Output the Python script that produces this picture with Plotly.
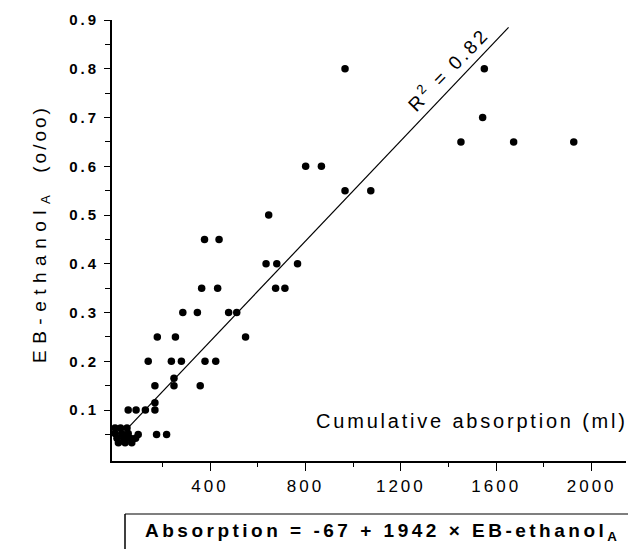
import plotly.graph_objects as go

# ---- data ----
absorption_ml = [
    966, 1550, 1543, 1452, 1673, 1925,
    801, 867, 966, 1074, 646,
    377, 438,
    635, 680, 767,
    365, 432, 675, 714,
    286, 347, 478, 512,
    179, 255, 549,
    141, 238, 280, 379, 424,
    249,
    169, 249, 359,
    169, 169,
    57, 90, 129,
    99, 176, 218,
    2, 25, 52,
    2, 30, 57,
    10, 38, 66, 88,
    16, 44, 72,
]
eb_ethanol = [
    0.80, 0.80, 0.70, 0.65, 0.65, 0.65,
    0.60, 0.60, 0.55, 0.55, 0.50,
    0.45, 0.45,
    0.40, 0.40, 0.40,
    0.35, 0.35, 0.35, 0.35,
    0.30, 0.30, 0.30, 0.30,
    0.25, 0.25, 0.25,
    0.20, 0.20, 0.20, 0.20, 0.20,
    0.165,
    0.15, 0.15, 0.15,
    0.115, 0.10,
    0.10, 0.10, 0.10,
    0.05, 0.05, 0.05,
    0.063, 0.063, 0.063,
    0.052, 0.052, 0.052,
    0.042, 0.042, 0.042, 0.042,
    0.033, 0.033, 0.033,
]

# regression: Absorption = intercept + slope * EB-ethanol
intercept = -67
slope = 1942
r_squared = 0.82
fit_y_range = [0.065, 0.885]

x_tick_vals = [400, 800, 1200, 1600, 2000]
x_tick_labels = ["400", "800", "1200", "1600", "2000"]
x_minor_vals = [200, 600, 1000, 1400, 1800]
y_tick_vals = [0.1, 0.2, 0.3, 0.4, 0.5, 0.6, 0.7, 0.8, 0.9]
y_tick_labels = ["0.1", "0.2", "0.3", "0.4", "0.5", "0.6", "0.7", "0.8", "0.9"]
y_minor_vals = [0.05, 0.15, 0.25, 0.35, 0.45, 0.55, 0.65, 0.75, 0.85]

x_title = "Cumulative absorption (ml)"
y_title_main = "EB-ethanol<sub>A</sub>"
y_title_unit = "(o/oo)"
equation = "Absorption = -67 + 1942 × EB-ethanol<sub>A</sub>"

FONT = "Liberation Sans, Arial, Helvetica, sans-serif"


def spaced(t, px):
    return f"<span style='letter-spacing:{px}px'>{t}</span>"


fit_x = [intercept + slope * v for v in fit_y_range]

fig = go.Figure()
fig.add_trace(go.Scatter(
    x=fit_x, y=fit_y_range, mode="lines",
    line=dict(color="black", width=1.2), hoverinfo="skip", showlegend=False,
))
fig.add_trace(go.Scatter(
    x=absorption_ml, y=eb_ethanol, mode="markers",
    marker=dict(color="black", size=7.5, line=dict(width=0)),
    showlegend=False,
))

W, H = 628, 549
ml, mr, mt, mb = 112, 2, 20, 88
pw, ph = W - ml - mr, H - mt - mb


def px_x(p):
    return (p - ml) / pw


def px_y(p):
    return (H - mb - p) / ph


y_title_text = (spaced(y_title_main, 6.5) + "&nbsp;&nbsp;&nbsp;"
                + spaced(y_title_unit, 3))

fig.update_layout(
    width=W, height=H,
    margin=dict(l=ml, r=mr, t=mt, b=mb, pad=0),
    paper_bgcolor="white", plot_bgcolor="white",
    font=dict(family=FONT, color="black"),
    xaxis=dict(
        range=[-10.9, 2144], showgrid=False, zeroline=False,
        showline=True, linecolor="black", linewidth=1.5,
        tickmode="array", tickvals=x_tick_vals,
        ticktext=[spaced(t, 3) for t in x_tick_labels],
        ticks="outside", ticklen=8, tickwidth=1.2, tickcolor="black",
        tickfont=dict(size=17, family=FONT, color="black"),
        ticklabelstandoff=1,
        minor=dict(tickmode="array", tickvals=x_minor_vals, ticks="outside",
                   ticklen=4, tickwidth=1.2, tickcolor="black"),
    ),
    yaxis=dict(
        range=[-0.0046, 0.9], showgrid=False, zeroline=False,
        showline=True, linecolor="black", linewidth=1.8,
        tickmode="array", tickvals=y_tick_vals,
        ticktext=[spaced(t, 3) for t in y_tick_labels],
        ticks="outside", ticklen=6, tickwidth=1.2, tickcolor="black",
        tickfont=dict(size=15, family=FONT, color="black", weight="bold"),
        ticklabelstandoff=2,
        minor=dict(tickmode="array", tickvals=y_minor_vals, ticks="outside",
                   ticklen=5, tickwidth=1.2, tickcolor="black"),
    ),
    annotations=[
        dict(text=spaced(x_title, 2.8), xref="paper", yref="paper",
             x=px_x(630), y=px_y(421), xanchor="right", yanchor="middle",
             showarrow=False, font=dict(size=20, family=FONT, color="black")),
        dict(text=y_title_text, xref="paper", yref="paper",
             x=px_x(41), y=px_y(234), xanchor="center", yanchor="middle",
             textangle=-90, showarrow=False,
             font=dict(size=19, family=FONT, color="black")),
        dict(text=spaced(f"R<sup>2</sup> = {r_squared:.2f}", 3), xref="x", yref="y",
             x=1394, y=0.80, xanchor="center", yanchor="middle",
             textangle=-46, showarrow=False,
             font=dict(size=19, family=FONT, color="black")),
        dict(text=spaced(f"<b>{equation}</b>", 3.5), xref="paper", yref="paper",
             x=px_x(143), y=px_y(532), xanchor="left", yanchor="middle",
             showarrow=False, font=dict(size=19, family=FONT, color="black")),
    ],
    shapes=[
        dict(type="line", xref="paper", yref="paper",
             x0=px_x(125), x1=px_x(628), y0=px_y(514), y1=px_y(514),
             line=dict(color="black", width=1.2)),
        dict(type="line", xref="paper", yref="paper",
             x0=px_x(125), x1=px_x(125), y0=px_y(514), y1=px_y(549),
             line=dict(color="black", width=1.5)),
    ],
)

fig.write_html("out.html")
